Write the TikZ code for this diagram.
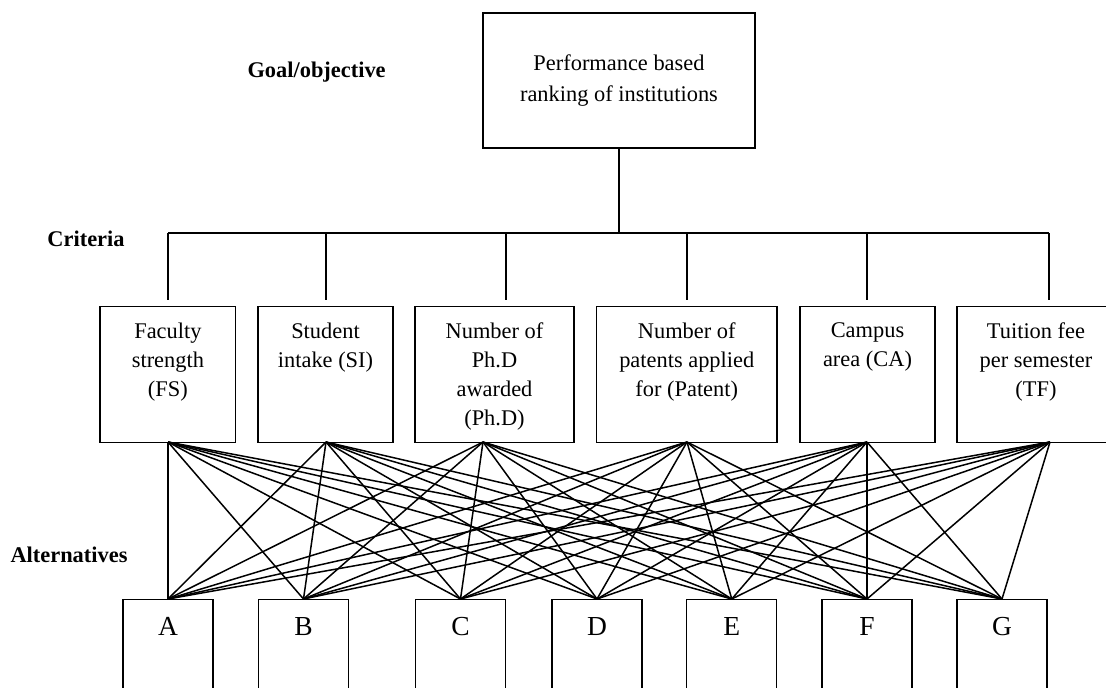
\documentclass[tikz,border=0pt]{standalone}
\usepackage{fontspec}
\setmainfont{Liberation Serif}
\tikzset{
  box/.style={draw, line width=1.4pt, inner sep=0pt},
  critbox/.style={box, anchor=north, font=\fontsize{22.4}{28.8}\selectfont},
  altbox/.style={box, anchor=north, minimum width=90pt, text height=36pt, text depth=110pt, font=\fontsize{27.5}{32}\selectfont},
  level/.style={anchor=base, font=\fontsize{22.4}{27}\selectfont\bfseries},
  link/.style={line width=1.5pt},
}
\begin{document}
\begin{tikzpicture}[x=1pt, y=-1pt]
        \path[use as bounding box, clip] (0,0) rectangle (1106,688);

        % Level names
        \node[level] (lgoal) at (316.6,77.3) {Goal/objective};
        \node[level] (lcrit) at (86,246.5) {Criteria};
        \node[level] (lalt) at (69,562.3) {Alternatives};

        % Goal
        \node[box, minimum width=272pt, minimum height=135pt, align=center, font=\fontsize{22.4}{31}\selectfont] (goal) at (619,80.5) {Performance based\\ranking of institutions};

        % Bus to the criteria
        \coordinate (bus) at (619,233);
        \foreach \i/\x in {1/168, 2/326, 3/506, 4/687, 5/867, 6/1049}
            \coordinate (d\i) at (\x,233);
        \draw[link] (goal) -- (bus);
        \draw[link] (d1) -- (d6);
        \foreach \i in {1,...,6}
            \draw[link] (d\i) -- ++(0,67);

        % Criteria
        \node[critbox] (fs) at (167.9,306) {\parbox[c][136pt][t]{135.7pt}{\centering\vspace*{16.4pt}Faculty\\strength\\(FS)}};
        \node[critbox] (si) at (325.5,306) {\parbox[c][136pt][t]{135pt}{\centering\vspace*{16.4pt}Student\\intake (SI)}};
        \node[critbox] (phd) at (494.5,306) {\parbox[c][136pt][t]{159pt}{\centering\vspace*{16.4pt}Number of\\Ph.D\\awarded\\(Ph.D)}};
        \node[critbox] (patent) at (686.75,306) {\parbox[c][136pt][t]{180.5pt}{\centering\vspace*{16.4pt}Number of\\patents applied\\for (Patent)}};
        \node[critbox] (ca) at (867.5,306) {\parbox[c][136pt][t]{135pt}{\centering\vspace*{16.4pt}Campus\\area (CA)}};
        \node[critbox] (tf) at (1036,306) {\parbox[c][136pt][t]{158pt}{\centering\vspace*{16.4pt}Tuition fee\\per semester\\(TF)}};

        % Alternatives
        \foreach \n/\x in {A/168, B/303.5, C/460.5, D/597, E/731.75, F/867, G/1002}
            \node[altbox] (alt\n) at (\x,599) {\n};

        % Every criterion to every alternative
        \foreach \i/\x in {1/168, 2/326, 3/483, 4/687, 5/867, 6/1050}
            \coordinate (cb\i) at (\x,442);
        \foreach \i in {1,...,6}
            \foreach \n in {A,B,C,D,E,F,G}
                \draw[link] (cb\i) -- (alt\n.north);

\end{tikzpicture}
\end{document}
